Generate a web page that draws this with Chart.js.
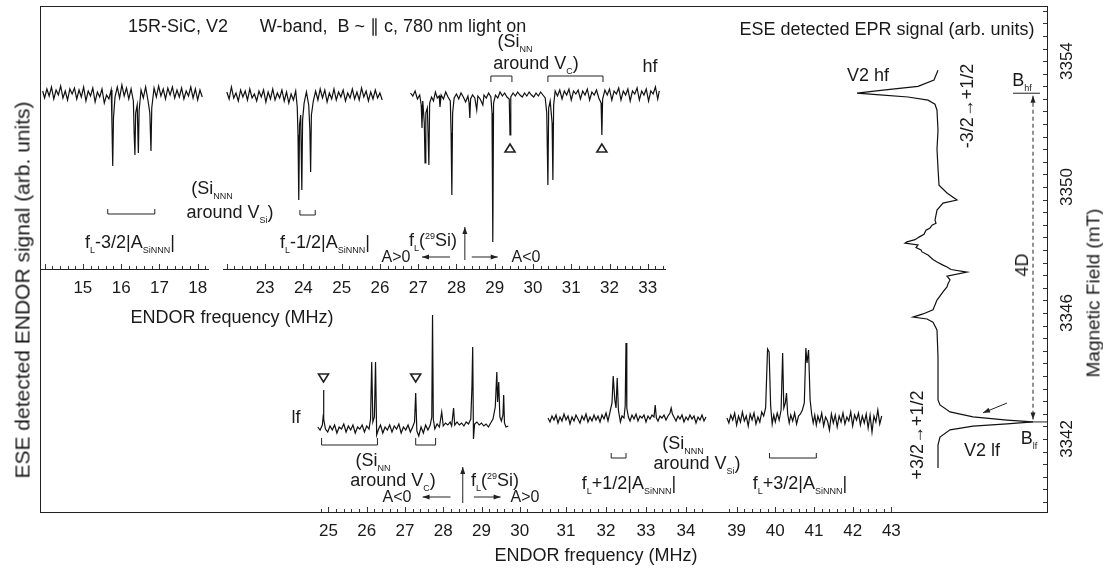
<!DOCTYPE html>
<html>
<head>
<meta charset="utf-8">
<script src="https://cdn.jsdelivr.net/npm/chart.js@4.4.0/dist/chart.umd.min.js"></script>
<style>
body { margin: 0; background: #fff; }
#page { position: relative; width: 1103px; height: 570px; overflow: hidden; font-family: "Liberation Sans", Arial, sans-serif; color: #1a1a1a; }
canvas { position: absolute; }
#frame { position: absolute; left: 40px; top: 6px; width: 1006px; height: 505px; border: 1px solid #222; }
.t { position: absolute; white-space: nowrap; font-size: 18px; line-height: 1; transform: translate(-50%, -50%); }
.r { transform: translate(-50%, -50%) rotate(-90deg); }
.t sub, .t sup { font-size: 9px; line-height: 0; }
.s { font-size: 16px; }
</style>
</head>
<body>
<div id="page">
  <div id="frame"></div>
  <canvas id="hfA"></canvas>
  <canvas id="hfB"></canvas>
  <canvas id="lfA"></canvas>
  <canvas id="lfB"></canvas>
  <canvas id="lfC"></canvas>
  <canvas id="epr"></canvas>

  <div class="t" style="left:178px;top:26px">15R-SiC, V2</div>
  <div class="t" style="left:393px;top:26px">W-band,&nbsp; B ~ &#8741; c, 780 nm light on</div>
  <div class="t" style="left:887px;top:29px">ESE detected EPR signal (arb. units)</div>
  <div class="t r" style="left:22px;top:290px;font-size:21px">ESE detected ENDOR signal (arb. units)</div>
  <div class="t r" style="left:1093px;top:293px;font-size:19px">Magnetic Field (mT)</div>

  <div class="t" style="left:515px;top:41px">(Si<sub>NN</sub></div>
  <div class="t" style="left:536px;top:63px">around V<sub>C</sub>)</div>
  <div class="t" style="left:650px;top:66px">hf</div>
  <div class="t" style="left:212px;top:188px">(Si<sub>NNN</sub></div>
  <div class="t" style="left:230px;top:212px">around V<sub>Si</sub>)</div>
  <div class="t" style="left:130px;top:242px">f<sub>L</sub>-3/2|A<sub>SiNNN</sub>|</div>
  <div class="t" style="left:325px;top:242px">f<sub>L</sub>-1/2|A<sub>SiNNN</sub>|</div>
  <div class="t" style="left:433px;top:240px">f<sub>L</sub>(<sup>29</sup>Si)</div>
  <div class="t s" style="left:396px;top:257px">A&gt;0</div>
  <div class="t s" style="left:526px;top:257px">A&lt;0</div>
  <div class="t" style="left:232px;top:317px">ENDOR frequency (MHz)</div>

  <div class="t" style="left:296px;top:417px">lf</div>
  <div class="t" style="left:373px;top:460px">(Si<sub>NN</sub></div>
  <div class="t" style="left:393px;top:480px">around V<sub>C</sub>)</div>
  <div class="t" style="left:495px;top:480px">f<sub>L</sub>(<sup>29</sup>Si)</div>
  <div class="t s" style="left:397px;top:497px">A&lt;0</div>
  <div class="t s" style="left:525px;top:497px">A&gt;0</div>
  <div class="t" style="left:683px;top:443px">(Si<sub>NNN</sub></div>
  <div class="t" style="left:697px;top:463px">around V<sub>Si</sub>)</div>
  <div class="t" style="left:629px;top:483px">f<sub>L</sub>+1/2|A<sub>SiNNN</sub>|</div>
  <div class="t" style="left:800px;top:483px">f<sub>L</sub>+3/2|A<sub>SiNNN</sub>|</div>
  <div class="t" style="left:596px;top:555px">ENDOR frequency (MHz)</div>

  <div class="t" style="left:868px;top:75px">V2 hf</div>
  <div class="t r" style="left:967px;top:106px">-3/2&rarr;+1/2</div>
  <div class="t" style="left:1022px;top:80px">B<sub>hf</sub></div>
  <div class="t r" style="left:1022px;top:265px">4D</div>
  <div class="t r" style="left:917px;top:435px">+3/2&rarr;+1/2</div>
  <div class="t" style="left:982px;top:450px">V2 lf</div>
  <div class="t" style="left:1029px;top:438px">B<sub>lf</sub></div>
</div>

<script>
// tick labels
const topTicks = [15, 16, 17, 18, 23, 24, 25, 26, 27, 28, 29, 30, 31, 32, 33];
const bottomTicks = [25, 26, 27, 28, 29, 30, 31, 32, 33, 34, 39, 40, 41, 42, 43];
const fieldTicks = [3342, 3346, 3350, 3354];

// hf ENDOR spectra, [MHz, signal]
const hfLow = [[13.95,2],[14.0,-5],[14.06,4],[14.12,-3],[14.18,6],[14.24,-6],[14.3,3],[14.36,-2],[14.42,7],[14.48,-5],[14.54,2],[14.6,-7],[14.66,4],[14.72,-1],[14.78,5],[14.84,-6],[14.9,3],[14.96,-4],[15.02,6],[15.08,-8],[15.14,2],[15.2,-3],[15.26,5],[15.32,-9],[15.38,1],[15.44,-4],[15.5,4],[15.56,-10],[15.62,-2],[15.68,-6],[15.74,3],[15.76,-30],[15.78,-73],[15.8,-25],[15.84,-4],[15.9,6],[15.96,-5],[16.02,8],[16.08,-3],[16.14,5],[16.2,-6],[16.26,4],[16.32,-8],[16.34,-40],[16.36,-62],[16.38,-20],[16.42,-12],[16.45,-60],[16.47,-18],[16.52,3],[16.58,-5],[16.64,6],[16.7,-7],[16.75,-20],[16.78,-58],[16.8,-15],[16.86,5],[16.92,-4],[16.98,7],[17.04,-3],[17.1,4],[17.16,-6],[17.22,5],[17.28,-2],[17.34,6],[17.4,-5],[17.46,3],[17.52,-4],[17.58,5],[17.64,-6],[17.7,2],[17.76,-3],[17.82,6],[17.88,-5],[17.94,4],[18.0,-7],[18.06,3],[18.12,-4]];
const hfMid = [[22.0,1],[22.06,-6],[22.12,6],[22.18,-5],[22.24,0],[22.3,-8],[22.36,3],[22.42,-4],[22.48,2],[22.54,-7],[22.6,4],[22.66,-5],[22.72,-1],[22.78,-8],[22.84,2],[22.9,-4],[22.96,3],[23.02,-9],[23.08,1],[23.14,-6],[23.2,4],[23.26,-7],[23.32,0],[23.38,-5],[23.44,3],[23.5,-8],[23.56,1],[23.62,-10],[23.68,-1],[23.74,-7],[23.8,2],[23.84,-14],[23.86,-42],[23.88,-107],[23.9,-32],[23.93,-22],[23.96,-97],[23.98,-27],[24.02,-10],[24.08,1],[24.14,-12],[24.17,-37],[24.19,-79],[24.21,-22],[24.26,-8],[24.32,2],[24.38,-7],[24.44,4],[24.5,-5],[24.56,3],[24.62,-9],[24.68,0],[24.74,-6],[24.8,4],[24.86,-7],[24.92,1],[24.98,-4],[25.04,3],[25.1,-8],[25.16,0],[25.22,-5],[25.28,4],[25.34,-6],[25.4,1],[25.46,-7],[25.52,5],[25.58,-4],[25.64,2],[25.7,-8],[25.76,1],[25.82,-6],[25.88,3],[25.94,-5],[26.0,0],[26.06,-7]];
const hfHigh = [[26.8,0],[26.86,-3],[26.92,2],[26.98,-6],[27.04,-2],[27.08,-12],[27.1,-35],[27.12,-8],[27.16,-30],[27.18,-70],[27.2,-20],[27.24,-15],[27.28,-72],[27.3,-10],[27.35,-4],[27.4,-8],[27.45,1],[27.5,-5],[27.55,-3],[27.57,-14],[27.6,-2],[27.66,-6],[27.72,1],[27.78,-4],[27.84,-8],[27.86,-40],[27.88,-102],[27.9,-20],[27.94,-5],[28.0,-1],[28.06,-6],[28.12,0],[28.18,-4],[28.24,-9],[28.3,-3],[28.33,-10],[28.35,-25],[28.37,-6],[28.42,-2],[28.48,-5],[28.53,-17],[28.56,-3],[28.62,-6],[28.69,-12],[28.72,-2],[28.78,-5],[28.84,0],[28.9,-4],[28.93,-20],[28.95,-149],[28.97,-10],[29.02,-2],[29.08,-5],[29.14,1],[29.2,-3],[29.26,0],[29.32,-4],[29.38,-6],[29.4,-42],[29.42,-4],[29.48,0],[29.54,-3],[29.6,1],[29.66,-2],[29.72,-4],[29.78,0],[29.84,-3],[29.9,1],[29.96,-2],[30.02,-4],[30.08,0],[30.14,-3],[30.2,1],[30.26,-2],[30.32,-5],[30.36,-20],[30.39,-92],[30.41,-15],[30.45,-8],[30.5,-30],[30.52,-87],[30.54,-12],[30.58,2],[30.64,-3],[30.7,3],[30.76,-6],[30.82,2],[30.88,-2],[30.94,4],[31.0,-7],[31.06,2],[31.12,-1],[31.18,3],[31.24,-6],[31.3,2],[31.36,-2],[31.42,4],[31.48,-7],[31.54,1],[31.6,-2],[31.66,3],[31.72,-5],[31.78,-10],[31.8,-42],[31.82,-6],[31.88,3],[31.94,-2],[32.0,4],[32.06,-7],[32.12,2],[32.18,-1],[32.24,5],[32.3,-7],[32.36,2],[32.42,-2],[32.48,4],[32.54,-8],[32.6,2],[32.66,-1],[32.72,5],[32.78,-7],[32.84,2],[32.9,-2],[32.96,4],[33.02,-8],[33.08,2],[33.14,-1],[33.2,6],[33.26,-6],[33.3,2]];

// lf ENDOR spectra, [MHz, signal]
const lfLow = [[24.72,0],[24.78,-3],[24.84,2],[24.86,10],[24.87,37],[24.88,8],[24.92,-2],[24.98,-5],[25.04,1],[25.1,-3],[25.16,2],[25.22,-6],[25.28,0],[25.34,-2],[25.4,3],[25.46,-5],[25.52,1],[25.58,-3],[25.64,2],[25.7,-6],[25.76,0],[25.82,-2],[25.88,2],[25.94,-5],[26.0,1],[26.06,-2],[26.1,8],[26.13,65],[26.16,5],[26.2,10],[26.23,65],[26.26,-8],[26.3,-3],[26.36,2],[26.42,-6],[26.48,0],[26.54,-3],[26.6,2],[26.66,-5],[26.72,1],[26.78,-2],[26.84,3],[26.9,-6],[26.96,0],[27.02,-3],[27.08,2],[27.14,-5],[27.2,0],[27.25,5],[27.28,34],[27.31,-4],[27.36,-9],[27.42,0],[27.48,-6],[27.54,2],[27.6,-3],[27.66,2],[27.7,10],[27.72,112],[27.74,8],[27.78,-2],[27.84,3],[27.9,0],[27.96,15],[28.0,1],[28.06,4],[28.12,2],[28.18,5],[28.22,1],[28.27,19],[28.3,2],[28.36,5],[28.42,2],[28.48,4],[28.54,1],[28.6,5],[28.66,3],[28.72,8],[28.75,40],[28.77,80],[28.79,-12],[28.82,3],[28.88,5],[28.94,2],[29.0,4],[29.06,1],[29.12,3],[29.18,0],[29.24,4],[29.3,8],[29.36,20],[29.4,55],[29.42,25],[29.45,45],[29.48,10],[29.52,6],[29.56,12],[29.58,32],[29.6,4],[29.64,0],[29.7,1]];
const lfMid = [[30.55,0],[30.6,-4],[30.65,2],[30.7,-2],[30.75,3],[30.8,-5],[30.85,1],[30.9,-3],[30.95,4],[31.0,-2],[31.05,2],[31.1,-6],[31.15,1],[31.2,-3],[31.25,3],[31.3,-1],[31.35,-5],[31.4,2],[31.45,-2],[31.5,4],[31.55,-4],[31.6,1],[31.65,-3],[31.7,3],[31.75,-2],[31.8,2],[31.85,-4],[31.9,3],[31.95,-1],[32.0,5],[32.05,-3],[32.1,6],[32.15,15],[32.18,42],[32.22,18],[32.25,10],[32.28,40],[32.31,8],[32.36,-4],[32.4,2],[32.45,0],[32.48,12],[32.5,75],[32.52,10],[32.56,1],[32.6,-3],[32.65,3],[32.7,-1],[32.75,4],[32.8,-3],[32.85,2],[32.9,0],[32.95,3],[33.0,-4],[33.05,2],[33.1,-1],[33.15,3],[33.2,1],[33.23,13],[33.26,0],[33.3,-3],[33.35,2],[33.4,0],[33.45,3],[33.5,-2],[33.55,2],[33.6,5],[33.63,10],[33.66,4],[33.7,1],[33.75,-3],[33.8,2],[33.85,-1],[33.9,3],[33.95,-4],[34.0,1],[34.05,-2],[34.1,3],[34.15,-1],[34.2,2],[34.25,-5],[34.3,1],[34.35,-2],[34.4,3],[34.45,-3],[34.5,1]];
const lfHigh = [[38.75,0],[38.8,-5],[38.85,3],[38.9,-2],[38.95,5],[39.0,-7],[39.05,2],[39.1,-4],[39.15,6],[39.2,-3],[39.25,2],[39.3,-8],[39.35,4],[39.4,-2],[39.45,5],[39.5,-6],[39.55,1],[39.6,-4],[39.65,6],[39.7,2],[39.75,10],[39.8,69],[39.84,66],[39.88,12],[39.92,-6],[39.96,3],[40.0,-4],[40.05,5],[40.1,-2],[40.15,8],[40.19,65],[40.22,10],[40.26,15],[40.29,25],[40.32,4],[40.36,-5],[40.4,3],[40.45,-3],[40.5,5],[40.55,-6],[40.6,2],[40.65,4],[40.7,8],[40.75,15],[40.79,70],[40.82,55],[40.86,68],[40.9,18],[40.94,4],[40.98,-5],[41.02,3],[41.06,-7],[41.1,2],[41.15,-4],[41.2,5],[41.25,-8],[41.3,1],[41.35,-3],[41.4,-12],[41.45,4],[41.5,-5],[41.55,3],[41.6,-9],[41.65,2],[41.7,-4],[41.75,5],[41.8,-6],[41.85,1],[41.9,-3],[41.95,6],[42.0,-8],[42.05,3],[42.1,-2],[42.15,5],[42.2,-7],[42.25,2],[42.3,-5],[42.35,4],[42.4,-10],[42.45,3],[42.5,-14],[42.55,2],[42.6,-4],[42.65,8],[42.7,-6],[42.75,2]];

// EPR trace, [mT, signal]
const eprTrace = [[3353.71,0],[3353.4,-4],[3353.2,-20],[3353.08,-55],[3352.98,-81],[3352.93,-58],[3352.86,-30],[3352.76,-10],[3352.63,-3],[3352.44,-1],[3351.8,0],[3351.2,-1],[3350.6,0],[3350.06,1],[3349.81,9],[3349.59,19],[3349.49,5],[3349.27,-1],[3348.95,-3],[3348.85,-2],[3348.79,-6],[3348.7,-8],[3348.63,-12],[3348.5,-14],[3348.41,-19],[3348.33,-23],[3348.26,-31],[3348.22,-33],[3348.16,-20],[3348.08,-22],[3348.0,-17],[3347.94,-16],[3347.84,-10],[3347.7,-5],[3347.62,-1],[3347.52,5],[3347.46,9],[3347.38,13],[3347.3,29],[3347.17,9],[3347.05,12],[3346.93,10],[3346.83,9],[3346.67,5],[3346.41,-1],[3346.1,-5],[3345.97,-15],[3345.87,-25],[3345.81,-11],[3345.71,-5],[3345.46,-1],[3344.6,0],[3343.8,0],[3343.24,0],[3343.08,2],[3342.86,12],[3342.7,35],[3342.6,69],[3342.54,95],[3342.48,69],[3342.41,35],[3342.29,12],[3342.06,2],[3341.81,0],[3341.08,0]];

const FONT = '"Liberation Sans", Arial, sans-serif';
const INK = '#1a1a1a';
Chart.defaults.font.family = FONT;
Chart.defaults.color = INK;

// small inward tick marks, plus rotated labels for the field axis
const innerTicks = {
  id: 'innerTicks',
  afterDraw(chart, args, opts) {
    if (!opts.axis) return;
    const s = chart.scales[opts.axis];
    const ctx = chart.ctx;
    ctx.save();
    ctx.strokeStyle = '#333';
    ctx.lineWidth = 1;
    ctx.beginPath();
    s.ticks.forEach(t => {
      const p = Math.round(s.getPixelForValue(t.value)) + 0.5;
      if (opts.axis === 'x') {
        const len = Math.abs(t.value - Math.round(t.value)) < 1e-6 ? 5 : 3;
        ctx.moveTo(p, s.top);
        ctx.lineTo(p, s.top - len);
      } else {
        ctx.moveTo(s.left, p);
        ctx.lineTo(s.left - 4, p);
      }
    });
    ctx.stroke();
    if (opts.labels) {
      ctx.fillStyle = INK;
      ctx.font = '17px ' + FONT;
      ctx.textAlign = 'center';
      ctx.textBaseline = 'middle';
      opts.labels.forEach(v => {
        ctx.save();
        ctx.translate(s.left + 20, s.getPixelForValue(v));
        ctx.rotate(-Math.PI / 2);
        ctx.fillText(String(v), 0, 0);
        ctx.restore();
      });
    }
    ctx.restore();
  }
};

// brackets, triangles and arrows, given in data units
const notes = {
  id: 'notes',
  afterDatasetsDraw(chart, args, opts) {
    const items = opts.items || [];
    const xs = chart.scales.x, ys = chart.scales.y;
    const X = v => xs.getPixelForValue(v), Y = v => ys.getPixelForValue(v);
    const ctx = chart.ctx;
    ctx.save();
    ctx.strokeStyle = '#222';
    ctx.fillStyle = '#222';
    ctx.lineWidth = 1;
    const head = (x1, y1, x2, y2) => {
      const a = Math.atan2(y2 - y1, x2 - x1);
      ctx.beginPath();
      ctx.moveTo(x2, y2);
      ctx.lineTo(x2 - 7 * Math.cos(a) + 2.5 * Math.sin(a), y2 - 7 * Math.sin(a) - 2.5 * Math.cos(a));
      ctx.lineTo(x2 - 7 * Math.cos(a) - 2.5 * Math.sin(a), y2 - 7 * Math.sin(a) + 2.5 * Math.cos(a));
      ctx.closePath();
      ctx.fill();
    };
    items.forEach(it => {
      if (it.type === 'bracket') {
        ctx.beginPath();
        ctx.moveTo(X(it.x1), Y(it.y1));
        ctx.lineTo(X(it.x1), Y(it.y2));
        ctx.lineTo(X(it.x2), Y(it.y2));
        ctx.lineTo(X(it.x2), Y(it.y1));
        ctx.stroke();
      } else if (it.type === 'tri') {
        const px = X(it.x), py = Y(it.y), d = it.dir === 'up' ? -1 : 1;
        ctx.lineWidth = 1.6;
        ctx.beginPath();
        ctx.moveTo(px, py + 4 * d);
        ctx.lineTo(px - 5, py - 4 * d);
        ctx.lineTo(px + 5, py - 4 * d);
        ctx.closePath();
        ctx.stroke();
        ctx.lineWidth = 1;
      } else {
        const x1 = X(it.x1), y1 = Y(it.y1), x2 = X(it.x2), y2 = Y(it.y2);
        ctx.setLineDash(it.dash ? [4, 3] : []);
        ctx.beginPath();
        ctx.moveTo(x1, y1);
        ctx.lineTo(x2, y2);
        ctx.stroke();
        ctx.setLineDash([]);
        if (it.type === 'arrow' || it.type === 'both') head(x1, y1, x2, y2);
        if (it.type === 'both') head(x2, y2, x1, y1);
      }
    });
    ctx.restore();
  }
};

function spectrum(id, area, xMin, xMax, yMin, yMax, series, tickLabels, axisLine, items) {
  const pad = 14;
  const cv = document.getElementById(id);
  const w = Math.round(area.right - area.left) + 2 * pad;
  const h = area.bottom - area.top + 40;
  cv.width = w; cv.height = h;
  cv.style.width = w + 'px'; cv.style.height = h + 'px';
  cv.style.left = Math.round(area.left - pad) + 'px';
  cv.style.top = area.top + 'px';
  return new Chart(cv, {
    type: 'scatter',
    data: {
      datasets: series.map(s => ({
        data: s.map(p => ({ x: p[0], y: p[1] })),
        showLine: true,
        borderColor: '#111',
        borderWidth: 1.2,
        pointRadius: 0,
        tension: 0
      }))
    },
    options: {
      responsive: false,
      animation: false,
      layout: { padding: { left: pad, right: pad, top: 0, bottom: 0 } },
      plugins: {
        legend: { display: false },
        tooltip: { enabled: false },
        innerTicks: { axis: 'x' },
        notes: { items: items }
      },
      scales: {
        x: {
          type: 'linear', min: xMin, max: xMax,
          afterFit: s => { s.height = 40; s.paddingLeft = 0; s.paddingRight = 0; },
          border: { display: axisLine, color: '#222', width: 1 },
          grid: { drawOnChartArea: false, drawTicks: false, color: 'rgba(0,0,0,0)' },
          ticks: {
            stepSize: 0.2, autoSkip: false, maxRotation: 0, includeBounds: false, padding: 9,
            color: INK, font: { size: 17 },
            callback: v => tickLabels.includes(Math.round(v * 100) / 100) ? String(Math.round(v)) : ''
          }
        },
        y: { display: false, min: yMin, max: yMax }
      }
    },
    plugins: [innerTicks, notes]
  });
}

// top (hf) panels
spectrum('hfA', { left: 40.1, right: 208.2, top: 6, bottom: 269 }, 13.88, 18.27, -176, 87,
  [hfLow], topTicks, true,
  [{ type: 'bracket', x1: 15.65, x2: 16.88, y1: -116, y2: -121 }]);

spectrum('hfB', { left: 222.9, right: 665.2, top: 6, bottom: 269 }, 21.9, 33.45, -176, 87,
  [hfMid, hfHigh], topTicks, true,
  [{ type: 'bracket', x1: 23.91, x2: 24.31, y1: -117, y2: -122 },
   { type: 'bracket', x1: 28.9, x2: 29.45, y1: 11, y2: 17 },
   { type: 'bracket', x1: 30.39, x2: 31.83, y1: 11, y2: 17 },
   { type: 'tri', x: 29.4, y: -55, dir: 'up' },
   { type: 'tri', x: 31.8, y: -55, dir: 'up' },
   { type: 'arrow', x1: 28.22, y1: -167, x2: 28.22, y2: -134 },
   { type: 'arrow', x1: 27.83, y1: -164, x2: 27.1, y2: -164 },
   { type: 'arrow', x1: 28.4, y1: -164, x2: 29.08, y2: -164 }]);

// bottom (lf) panels
spectrum('lfA', { left: 316.5, right: 531.2, top: 280, bottom: 512 }, 24.7, 30.32, -85, 147,
  [lfLow], bottomTicks, false,
  [{ type: 'tri', x: 24.87, y: 49, dir: 'down' },
   { type: 'tri', x: 27.28, y: 49, dir: 'down' },
   { type: 'bracket', x1: 24.82, x2: 26.28, y1: -11, y2: -18 },
   { type: 'bracket', x1: 27.28, x2: 27.8, y1: -11, y2: -18 },
   { type: 'arrow', x1: 28.51, y1: -76, x2: 28.51, y2: -40 },
   { type: 'arrow', x1: 28.19, y1: -70, x2: 27.46, y2: -70 },
   { type: 'arrow', x1: 28.8, y1: -70, x2: 29.5, y2: -70 }]);

spectrum('lfB', { left: 542, right: 708, top: 280, bottom: 512 }, 30.4, 34.55, -94, 138,
  [lfMid], bottomTicks, false,
  [{ type: 'bracket', x1: 32.13, x2: 32.5, y1: -35, y2: -40 }]);

spectrum('lfC', { left: 725.4, right: 896.7, top: 280, bottom: 512 }, 38.7, 43.12, -94, 138,
  [lfHigh], bottomTicks, false,
  [{ type: 'bracket', x1: 39.85, x2: 41.06, y1: -35, y2: -40 }]);

// EPR trace with the magnetic field axis on the right
(function () {
  const cv = document.getElementById('epr');
  cv.width = 273; cv.height = 570;
  cv.style.width = '273px'; cv.style.height = '570px';
  cv.style.left = '830px'; cv.style.top = '0px';
  new Chart(cv, {
    type: 'scatter',
    data: {
      datasets: [{
        data: eprTrace.map(p => ({ x: p[1], y: p[0] })),
        showLine: true, borderColor: '#111', borderWidth: 1.2, pointRadius: 0, tension: 0
      }]
    },
    options: {
      responsive: false,
      animation: false,
      layout: { padding: { left: 10, right: 0, top: 6, bottom: 58 } },
      plugins: {
        legend: { display: false },
        tooltip: { enabled: false },
        innerTicks: { axis: 'y', labels: fieldTicks },
        notes: {
          items: [
            { type: 'line', x1: 75, y1: 3352.98, x2: 102, y2: 3352.98 },
            { type: 'both', x1: 95, y1: 3352.9, x2: 95, y2: 3342.62, dash: true },
            { type: 'line', x1: 88, y1: 3342.54, x2: 109, y2: 3342.54 },
            { type: 'arrow', x1: 69, y1: 3343.14, x2: 45, y2: 3342.83 }
          ]
        }
      },
      scales: {
        x: { type: 'linear', display: false, min: -98, max: 109 },
        y: {
          type: 'linear', position: 'right', min: 3339.68, max: 3355.75,
          afterFit: s => { s.width = 56; },
          border: { display: false },
          grid: { drawOnChartArea: false, drawTicks: false },
          ticks: { display: false, stepSize: 0.4, autoSkip: false, includeBounds: false }
        }
      }
    },
    plugins: [innerTicks, notes]
  });
})();
</script>
</body>
</html>
